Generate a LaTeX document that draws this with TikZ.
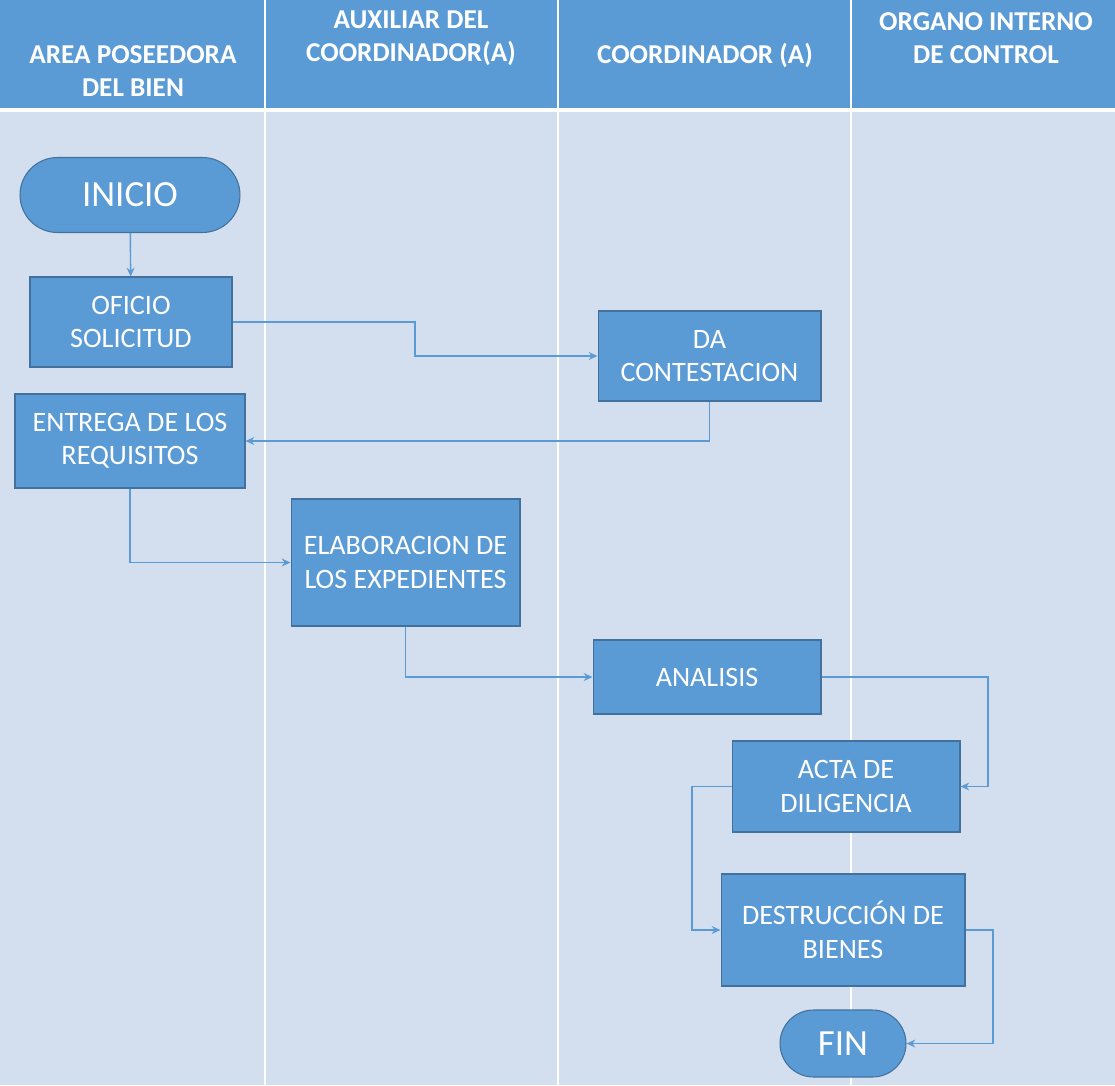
\documentclass[tikz,border=0pt]{standalone}
\usepackage{fontspec}
\setmainfont{Carlito}
\usetikzlibrary{arrows.meta}
\definecolor{hdrblue}{HTML}{5B9BD5}
\definecolor{lanebg}{HTML}{D3DEEF}
\definecolor{boxedge}{HTML}{41719C}
\tikzset{
  procbox/.style={rectangle,fill=hdrblue,draw=boxedge,line width=0.6pt,
    text=white,align=center,font=\fontsize{16}{19}\selectfont,inner sep=0pt},
  termbox/.style={procbox,font=\fontsize{21}{25}\selectfont},
  lanehead/.style={text=white,align=center,font=\bfseries\fontsize{15.5}{19}\selectfont},
  flow/.style={draw=hdrblue,line width=0.8pt,-{Stealth[length=5pt,width=4.5pt]}}
}
\begin{document}
\begin{tikzpicture}[x=0.02cm,y=-0.02cm]
  \useasboundingbox (0,0) rectangle (1115,1085);
  % lanes
  \fill[hdrblue] (0,0) rectangle (1115,108);
  \fill[lanebg] (0,112) rectangle (1115,1085);
  \foreach \lx in {265,558,851}
    \draw[white,line width=1.2pt] (\lx,0) -- (\lx,1085);
  \node[lanehead] (hdarea) at (133,71) {AREA POSEEDORA\\DEL BIEN};
  \node[lanehead] (hdaux) at (411,38) {AUXILIAR DEL\\COORDINADOR(A)};
  \node[lanehead] (hdcoord) at (705,55) {COORDINADOR (A)};
  \node[lanehead] (hdorg) at (986,38) {ORGANO INTERNO\\DE CONTROL};
  % steps
  \node[termbox,rounded corners=0.75cm,minimum width=4.4cm,minimum height=1.5cm]
    (inicio) at (130,195) {INICIO};
  \node[procbox,minimum width=4.04cm,minimum height=1.8cm] (oficio) at (131,322) {OFICIO\\SOLICITUD};
  \node[procbox,minimum width=4.46cm,minimum height=1.8cm] (contesta) at (709.5,356) {DA\\CONTESTACION};
  \node[procbox,minimum width=4.6cm,minimum height=1.88cm] (entrega) at (130,441) {ENTREGA DE LOS\\REQUISITOS};
  \node[procbox,minimum width=4.58cm,minimum height=2.54cm] (elabora) at (405.5,562.5) {ELABORACION DE\\LOS EXPEDIENTES};
  \node[procbox,minimum width=4.56cm,minimum height=1.48cm] (analisis) at (707,677) {ANALISIS};
  \node[procbox,minimum width=4.56cm,minimum height=1.82cm] (acta) at (846,786.5) {ACTA DE\\DILIGENCIA};
  \node[procbox,minimum width=4.88cm,minimum height=2.24cm] (destruye) at (843,930) {DESTRUCCIÓN DE\\BIENES};
  \node[termbox,rounded corners=0.67cm,minimum width=2.52cm,minimum height=1.34cm]
    (fin) at (843,1043.5) {FIN};
  % connectors
  \draw[flow] (inicio) -- (oficio);
  \draw[flow] (oficio.east) -- (415,322) |- (contesta.west);
  \draw[flow] (contesta.south) |- (entrega.east);
  \draw[flow] (entrega.south) |- (elabora.west);
  \draw[flow] (elabora.south) |- (analisis.west);
  \draw[flow] (analisis.east) -- (988,677) |- (acta.east);
  \draw[flow] (acta.west) -- (692,786.5) |- (destruye.west);
  \draw[flow] (destruye.east) -- (993,930) |- (fin.east);
\end{tikzpicture}
\end{document}
